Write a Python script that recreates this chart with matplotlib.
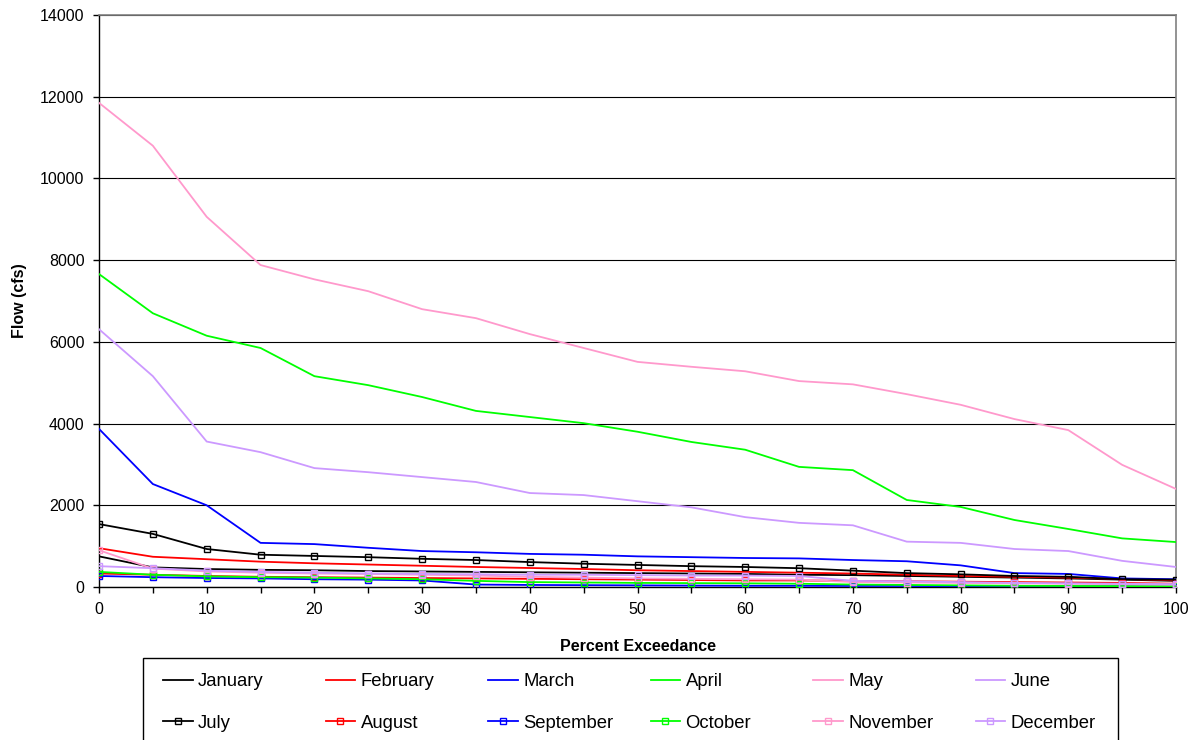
import matplotlib
matplotlib.use("Agg")
import matplotlib.pyplot as plt
from matplotlib.patches import Rectangle
from matplotlib.ticker import MultipleLocator, FuncFormatter

plt.rcParams['font.family'] = ['Liberation Sans', 'DejaVu Sans']

# Percent exceedance levels
exceedance = list(range(0, 101, 5))

# Monthly flow-duration values (cfs)
january = [750, 480, 440, 420, 410, 390, 380, 370, 360, 350, 340, 330, 320, 300, 290, 270, 250, 230, 210, 180, 150]
february = [950, 740, 680, 620, 580, 550, 520, 490, 465, 440, 410, 390, 370, 350, 330, 300, 270, 250, 230, 200, 160]
march = [3870, 2520, 2000, 1080, 1050, 960, 880, 850, 810, 790, 750, 730, 710, 700, 660, 630, 530, 340, 320, 210, 190]
april = [7660, 6700, 6150, 5850, 5160, 4940, 4650, 4310, 4160, 4010, 3800, 3550, 3360, 2940, 2860, 2130, 1960, 1640, 1420, 1190, 1100]
may = [11850, 10800, 9060, 7880, 7530, 7240, 6800, 6580, 6190, 5850, 5510, 5390, 5280, 5040, 4960, 4720, 4460, 4110, 3840, 2990, 2400]
june = [6310, 5160, 3560, 3300, 2910, 2810, 2690, 2570, 2300, 2250, 2100, 1950, 1710, 1570, 1510, 1110, 1080, 930, 880, 640, 490]
july = [1540, 1300, 930, 790, 760, 730, 690, 660, 610, 570, 540, 510, 490, 460, 400, 340, 310, 270, 250, 190, 180]
august = [330, 300, 270, 250, 240, 230, 220, 210, 200, 190, 180, 170, 160, 160, 150, 140, 130, 120, 110, 100, 80]
september = [270, 240, 220, 210, 190, 180, 160, 60, 50, 45, 40, 35, 30, 30, 25, 25, 20, 20, 15, 15, 10]
october = [370, 300, 260, 240, 230, 210, 190, 150, 120, 110, 100, 95, 90, 80, 60, 50, 40, 30, 25, 20, 15]
november = [900, 450, 380, 350, 330, 320, 300, 280, 250, 230, 210, 200, 190, 180, 120, 110, 100, 90, 80, 70, 60]
december = [510, 460, 400, 370, 350, 330, 320, 310, 300, 300, 290, 280, 280, 270, 150, 140, 120, 100, 90, 80, 70]

month_names = ["January", "February", "March", "April", "May", "June",
               "July", "August", "September", "October", "November", "December"]
month_values = [january, february, march, april, may, june,
                july, august, september, october, november, december]
palette = ["#000000", "#FF0000", "#0000FF", "#00FF00", "#FF99CC", "#CC99FF"]

W, H = 1198, 740
fig = plt.figure(figsize=(W / 100, H / 100), dpi=100)
ax = fig.add_axes([99 / W, 1 - 587 / H, (1176 - 99) / W, (587 - 15) / H])

handles = []
for i, (name, vals) in enumerate(zip(month_names, month_values)):
    color = palette[i % 6]
    if i < 6:
        h, = ax.plot(exceedance, vals, color=color, lw=1.3, label=name, zorder=3 + i * 0.01)
    else:
        h, = ax.plot(exceedance, vals, color=color, lw=1.3, marker="s", markersize=4.2,
                     markerfacecolor="none", markeredgecolor=color, markeredgewidth=1.0,
                     label=name, zorder=3 + i * 0.01)
    handles.append(h)

ax.set_xlim(0, 100)
ax.set_ylim(0, 14000)
ax.xaxis.set_major_locator(MultipleLocator(5))
ax.xaxis.set_major_formatter(FuncFormatter(lambda v, p: f"{int(round(v))}" if round(v) % 10 == 0 else ""))
ax.yaxis.set_major_locator(MultipleLocator(2000))
ax.yaxis.grid(True, color="#000000", lw=0.8, zorder=1)
ax.set_axisbelow(True)

for side in ("top", "right"):
    ax.spines[side].set_color("#808080")
    ax.spines[side].set_linewidth(1.2)
for side in ("left", "bottom"):
    ax.spines[side].set_color("#000000")
    ax.spines[side].set_linewidth(1.0)

ax.tick_params(axis="both", direction="out", length=4.5, width=1.0, labelsize=11.5, colors="#000000")
ax.tick_params(axis="y", pad=6)
ax.tick_params(axis="x", pad=6.5)

ax.set_xlabel("Percent Exceedance", fontsize=11.5, fontweight="bold", labelpad=15.5)
ax.set_ylabel("Flow (cfs)", fontsize=11.5, fontweight="bold", labelpad=9)

# Legend frame spanning below the figure edge, with six evenly spaced columns
fig.add_artist(Rectangle((143 / W, -0.05), (1118 - 143) / W, 0.05 + (1 - 658 / H),
                         transform=fig.transFigure, facecolor="white",
                         edgecolor="#000000", linewidth=1.0, zorder=1))
col_x0 = 163
col_step = 162.5
for c in range(6):
    leg = fig.legend([handles[c], handles[c + 6]], [month_names[c], month_names[c + 6]],
                     loc="upper left",
                     bbox_to_anchor=((col_x0 + c * col_step) / W, 1 - 673 / H),
                     borderaxespad=0, borderpad=0, fontsize=13.3, frameon=False,
                     handlelength=1.6, handletextpad=0.3, labelspacing=1.35)
    leg.set_zorder(2)

fig.savefig("out.png", dpi=100)
